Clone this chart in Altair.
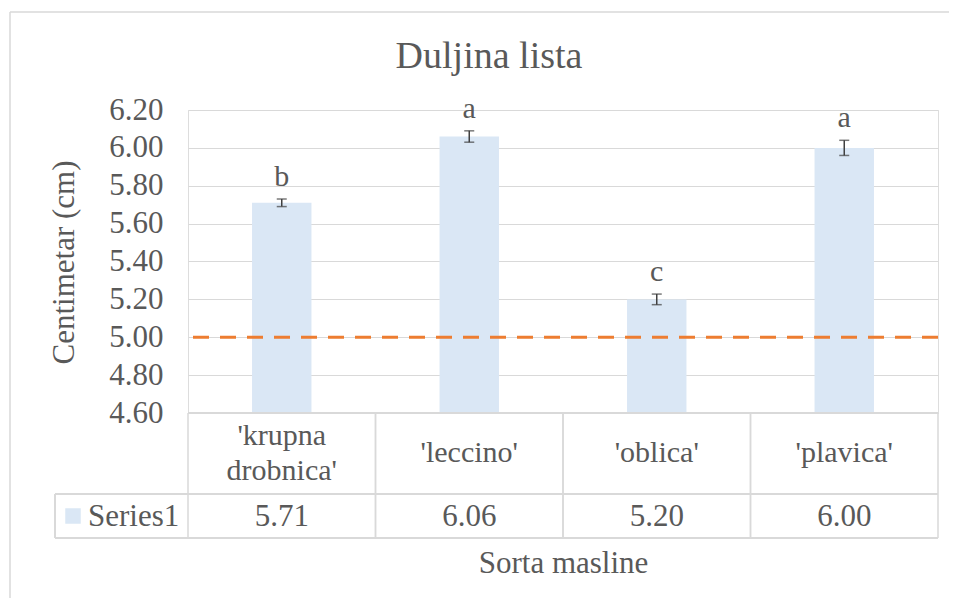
import altair as alt
import pandas as pd

# ---- data ----
categories = ["'krupna drobnica'", "'leccino'", "'oblica'", "'plavica'"]
category_labels = ["'krupna\ndrobnica'", "'leccino'", "'oblica'", "'plavica'"]
means = [5.71, 6.06, 5.20, 6.00]
errors = [0.02, 0.03, 0.028, 0.04]
letters = ["b", "a", "c", "a"]
series_name = ["Series1"]
chart_title = ["Duljina lista"]
y_ticks = [4.6, 4.8, 5.0, 5.2, 5.4, 5.6, 5.8, 6.0, 6.2]
reference_value = [5.0]
y_domain = [4.6, 6.2]

FONT = "Liberation Serif"
GRAY = "#595959"
LINE = "#d9d9d9"
BAR = "#DAE7F5"
ERR = "#404040"
ORANGE = "#ED7D31"

W, H = 750, 303

df = pd.DataFrame({"cat": categories, "label": category_labels, "mean": means,
                   "err": errors, "letter": letters})
df["lo"] = df["mean"] - df["err"]
df["hi"] = df["mean"] + df["err"]
df["base"] = y_domain[0]
df["value_text"] = df["mean"].map(lambda v: f"{v:.2f}")
df["multiline"] = df["label"].str.contains("\n")

x_scale = alt.Scale(paddingInner=0, paddingOuter=0)
x_axis = alt.Axis(title="Sorta masline", labels=False, ticks=False, domain=False,
                  grid=False, titleFont=FONT, titleFontSize=31,
                  titleFontWeight="normal", titleColor=GRAY,
                  titleY=150, titleBaseline="middle")
x_enc = alt.X("cat:N", sort=categories, scale=x_scale, axis=x_axis)
y_scale = alt.Scale(domain=y_domain, zero=False, nice=False)
y_axis = alt.Axis(title="Centimetar (cm)", values=y_ticks, format=".2f",
                  domain=False, ticks=False, grid=True, gridColor=LINE, gridWidth=1,
                  labelFont=FONT, labelFontSize=31, labelColor=GRAY, labelPadding=25,
                  titleFont=FONT, titleFontSize=31, titleFontWeight="normal",
                  titleColor=GRAY, titleX=-124, titleY=152, titleBaseline="middle")

base = alt.Chart(df)

bars = base.mark_bar(color=BAR, width=alt.RelativeBandSize(0.317)).encode(
    x=x_enc, y=alt.Y("mean:Q", scale=y_scale, axis=y_axis), y2="base:Q")

err_rule = base.mark_rule(color=ERR, strokeWidth=1.5).encode(
    x=x_enc, y=alt.Y("lo:Q", scale=y_scale, axis=y_axis), y2="hi:Q")
cap_lo = base.mark_tick(color=ERR, thickness=1.5, size=10).encode(
    x=x_enc, y=alt.Y("lo:Q", scale=y_scale, axis=y_axis))
cap_hi = base.mark_tick(color=ERR, thickness=1.5, size=10).encode(
    x=x_enc, y=alt.Y("hi:Q", scale=y_scale, axis=y_axis))

letter_text = base.mark_text(font=FONT, fontSize=30, color=GRAY, baseline="alphabetic",
                             dy=-13).encode(
    x=x_enc, y=alt.Y("hi:Q", scale=y_scale, axis=y_axis), text="letter:N")

ref = alt.Chart(pd.DataFrame({"ref": reference_value})).mark_rule(
    color=ORANGE, strokeWidth=3, strokeDash=[16, 11]).encode(
    y=alt.Y("ref:Q", scale=y_scale, axis=y_axis))

# ---- data table below the plot ----
tbl = {"stroke": LINE, "strokeWidth": 1.5}
col_start = base.mark_rule(**tbl).encode(
    x=alt.X("cat:N", sort=categories, bandPosition=0, scale=x_scale, axis=x_axis),
    y=alt.value(H), y2=alt.value(428))
col_end = base.mark_rule(**tbl).encode(
    x=alt.X("cat:N", sort=categories, bandPosition=1, scale=x_scale, axis=x_axis),
    y=alt.value(H), y2=alt.value(428))
top_line = base.mark_rule(**tbl).encode(x=alt.value(0), x2=alt.value(W), y=alt.value(H))
row_line = base.mark_rule(**tbl).encode(x=alt.value(-133), x2=alt.value(W), y=alt.value(384))
bot_line = base.mark_rule(**tbl).encode(x=alt.value(-133), x2=alt.value(W), y=alt.value(428))
left_line = base.mark_rule(**tbl).encode(x=alt.value(-133), y=alt.value(384), y2=alt.value(428))

cat_text_props = dict(font=FONT, fontSize=30, color=GRAY, lineBreak="\n",
                      lineHeight=35, baseline="middle")
cat_text1 = base.transform_filter("!datum.multiline").mark_text(**cat_text_props).encode(
    x=x_enc, y=alt.value(343), text="label:N")
cat_text2 = base.transform_filter("datum.multiline").mark_text(**cat_text_props).encode(
    x=x_enc, y=alt.value(326), text="label:N")
val_text = base.mark_text(font=FONT, fontSize=31, color=GRAY, baseline="middle").encode(
    x=x_enc, y=alt.value(407), text="value_text:N")

ser = alt.Chart(pd.DataFrame({"s": series_name}))
ser_text = ser.mark_text(font=FONT, fontSize=31, color=GRAY, baseline="middle",
                         align="left").encode(x=alt.value(-100), y=alt.value(407), text="s:N")
ser_key = ser.mark_square(color=BAR, opacity=1, size=240).encode(
    x=alt.value(-115), y=alt.value(406))

# ---- chart title and frame ----
title_text = alt.Chart(pd.DataFrame({"t": chart_title})).mark_text(
    font=FONT, fontSize=38, color=GRAY, baseline="alphabetic", align="center").encode(
    x=alt.value(301), y=alt.value(-42), text="t:N")
frame_left = ser.mark_rule(**tbl).encode(x=alt.value(-178), y=alt.value(-98), y2=alt.value(500))
frame_top = ser.mark_rule(**tbl).encode(x=alt.value(-178), x2=alt.value(800), y=alt.value(-98))

chart = alt.layer(
    bars, ref, err_rule, cap_lo, cap_hi, letter_text,
    top_line, row_line, bot_line, left_line, col_start, col_end,
    cat_text1, cat_text2, val_text, ser_text, ser_key, title_text, frame_left, frame_top,
).properties(
    width=W, height=H,
    autosize=alt.AutoSizeParams(type="none"),
    padding={"left": 180, "top": 102, "right": 11, "bottom": 185},
).configure_view(stroke=None).configure(background="white")

chart.save("out.html", embed_options={"renderer": "svg", "actions": False})
